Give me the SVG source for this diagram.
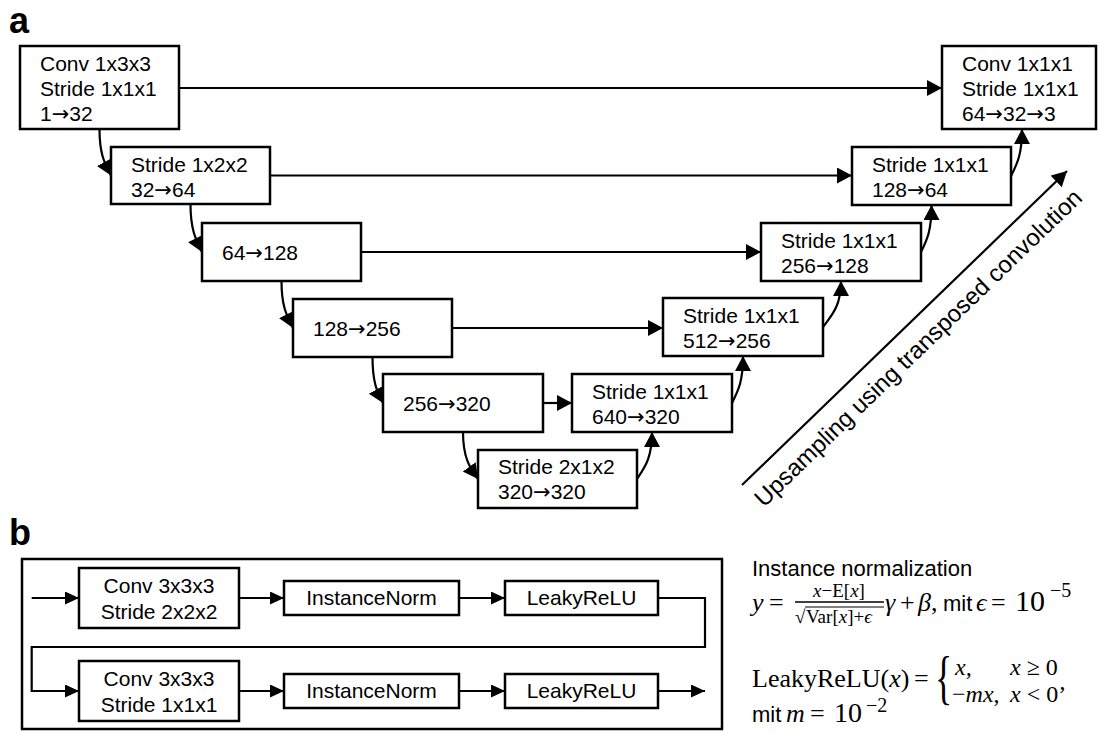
<svg xmlns="http://www.w3.org/2000/svg" width="1099" height="736" viewBox="0 0 1099 736">
<defs>
<style>
.box{fill:#fff;stroke:#000;stroke-width:2.5}
.ln{fill:none;stroke:#000;stroke-width:2.2}
.t{font-family:"Liberation Sans",Arial,sans-serif;font-size:21px;fill:#000}
.tc{font-family:"Liberation Sans",Arial,sans-serif;font-size:21px;fill:#000;text-anchor:middle}
.ar{font-family:"DejaVu Sans",sans-serif}
.lbl{font-family:"Liberation Sans",Arial,sans-serif;font-size:36px;font-weight:bold;fill:#000}
.s{font-family:"Liberation Sans",Arial,sans-serif;font-size:22px;fill:#000}
.m{font-family:"Liberation Serif","DejaVu Serif",serif;font-size:26px;fill:#000}
.mr{font-family:"Liberation Serif","DejaVu Serif",serif;font-size:24px;fill:#000}
.mi{font-style:italic}
.ms{font-family:"Liberation Serif","DejaVu Serif",serif;font-size:19px;fill:#000}
.sup{font-family:"Liberation Serif","DejaVu Serif",serif;font-size:20px;fill:#000}
</style>
<marker id="ah" markerUnits="userSpaceOnUse" markerWidth="16" markerHeight="17" refX="15" refY="8" orient="auto"><path d="M0,0 L15,8 L0,16 z" fill="#000"/></marker>
<marker id="ahb" markerUnits="userSpaceOnUse" markerWidth="15" markerHeight="14" refX="14" refY="6.5" orient="auto"><path d="M0,0 L14,6.5 L0,13 z" fill="#000"/></marker>
</defs>
<rect width="1099" height="736" fill="#fff"/>
<text class="lbl" x="9" y="33">a</text>
<text class="lbl" x="9" y="545">b</text>

<g id="connectors">
<path class="ln" d="M179,88 H942" marker-end="url(#ah)"/>
<path class="ln" d="M270,175.5 H852" marker-end="url(#ah)"/>
<path class="ln" d="M361,252 H761" marker-end="url(#ah)"/>
<path class="ln" d="M452,328 H663" marker-end="url(#ah)"/>
<path class="ln" d="M543,403 H572" marker-end="url(#ah)"/>
<path class="ln" d="M99.5,129 C99.5,155 105,164 111,175.5" marker-end="url(#ah)"/>
<path class="ln" d="M190.5,204 C190.5,230 196,240 202,252" marker-end="url(#ah)"/>
<path class="ln" d="M281.5,281 C281.5,307 287,316 293,328" marker-end="url(#ah)"/>
<path class="ln" d="M372.5,357 C372.5,382 377,392 383,403" marker-end="url(#ah)"/>
<path class="ln" d="M463,432 C463,458 470,468 478,479" marker-end="url(#ah)"/>
<path class="ln" d="M637,479 C645,467 652,458 652,432" marker-end="url(#ah)"/>
<path class="ln" d="M732,403 C738,391 743,382 743,356" marker-end="url(#ah)"/>
<path class="ln" d="M823,327 C832,315 841,306 841,281" marker-end="url(#ah)"/>
<path class="ln" d="M921,252 C927,240 931.5,231 931.5,205" marker-end="url(#ah)"/>
<path class="ln" d="M1011,176 C1017,164 1022,155 1022,129" marker-end="url(#ah)"/>
<path class="ln" d="M742,485 L1067,171" marker-end="url(#ah)"/>
<path class="ln" d="M31.7,598 H79" marker-end="url(#ahb)"/>
<path class="ln" d="M239,598 H284" marker-end="url(#ahb)"/>
<path class="ln" d="M459,598 H505" marker-end="url(#ahb)"/>
<path class="ln" d="M658,598 H705 V647 H31.7 V691 H79" marker-end="url(#ahb)"/>
<path class="ln" d="M239,691 H284" marker-end="url(#ahb)"/>
<path class="ln" d="M459,691 H505" marker-end="url(#ahb)"/>
<path class="ln" d="M658,691 H705" marker-end="url(#ahb)"/>
</g>

<g id="n1"><rect class="box" x="20" y="46" width="159" height="83"/>
<text class="t" x="40" y="71">Conv 1x3x3</text><text class="t" x="40" y="96">Stride 1x1x1</text><text class="t" x="40" y="121">1<tspan class="ar">→</tspan>32</text></g>
<g id="n2"><rect class="box" x="111" y="147" width="159" height="57"/>
<text class="t" x="131" y="172">Stride 1x2x2</text><text class="t" x="131" y="197">32<tspan class="ar">→</tspan>64</text></g>
<g id="n3"><rect class="box" x="202" y="223" width="159" height="58"/>
<text class="t" x="222" y="260">64<tspan class="ar">→</tspan>128</text></g>
<g id="n4"><rect class="box" x="293" y="299" width="159" height="58"/>
<text class="t" x="313" y="336">128<tspan class="ar">→</tspan>256</text></g>
<g id="n5"><rect class="box" x="383" y="374" width="160" height="58"/>
<text class="t" x="403" y="411">256<tspan class="ar">→</tspan>320</text></g>
<g id="n6"><rect class="box" x="478" y="450" width="159" height="58"/>
<text class="t" x="498" y="474">Stride 2x1x2</text><text class="t" x="498" y="499">320<tspan class="ar">→</tspan>320</text></g>
<g id="n7"><rect class="box" x="572" y="374" width="160" height="58"/>
<text class="t" x="592" y="399">Stride 1x1x1</text><text class="t" x="592" y="424">640<tspan class="ar">→</tspan>320</text></g>
<g id="n8"><rect class="box" x="663" y="298" width="160" height="58"/>
<text class="t" x="683" y="323">Stride 1x1x1</text><text class="t" x="683" y="348">512<tspan class="ar">→</tspan>256</text></g>
<g id="n9"><rect class="box" x="761" y="223" width="160" height="58"/>
<text class="t" x="781" y="248">Stride 1x1x1</text><text class="t" x="781" y="273">256<tspan class="ar">→</tspan>128</text></g>
<g id="n10"><rect class="box" x="852" y="147" width="159" height="58"/>
<text class="t" x="872" y="172">Stride 1x1x1</text><text class="t" x="872" y="197">128<tspan class="ar">→</tspan>64</text></g>
<g id="n11"><rect class="box" x="942" y="46" width="154" height="83"/>
<text class="t" x="962" y="71">Conv 1x1x1</text><text class="t" x="962" y="96">Stride 1x1x1</text><text class="t" x="962" y="121">64<tspan class="ar">→</tspan>32<tspan class="ar">→</tspan>3</text></g>

<text class="t" transform="translate(764,508) rotate(-44)" style="font-size:24px">Upsampling using transposed convolution</text>

<g id="b-frame"><rect x="22" y="559" width="700" height="170" fill="none" stroke="#000" stroke-width="2.5"/></g>
<g id="b1"><rect class="box" x="79" y="568" width="160" height="60"/>
<text class="tc" x="159" y="593">Conv 3x3x3</text><text class="tc" x="159" y="619">Stride 2x2x2</text></g>
<g id="b2"><rect class="box" x="284" y="581" width="175" height="34"/><text class="tc" x="371.5" y="605">InstanceNorm</text></g>
<g id="b3"><rect class="box" x="505" y="581" width="153" height="34"/><text class="tc" x="581.5" y="605">LeakyReLU</text></g>
<g id="b4"><rect class="box" x="79" y="661" width="160" height="60"/>
<text class="tc" x="159" y="686">Conv 3x3x3</text><text class="tc" x="159" y="712">Stride 1x1x1</text></g>
<g id="b5"><rect class="box" x="284" y="674" width="175" height="34"/><text class="tc" x="371.5" y="698">InstanceNorm</text></g>
<g id="b6"><rect class="box" x="505" y="674" width="153" height="34"/><text class="tc" x="581.5" y="698">LeakyReLU</text></g>

<g id="formulas">
<text class="s" x="752" y="576">Instance normalization</text>
<text class="m mi" x="752" y="611">y</text>
<text class="m" x="769" y="611">=</text>
<text class="ms" x="839" y="597" text-anchor="middle"><tspan font-style="italic">x</tspan>−E[<tspan font-style="italic">x</tspan>]</text>
<line x1="795" y1="602" x2="884" y2="602" stroke="#000" stroke-width="1.3"/>
<text class="ms" x="795" y="623">√</text>
<line x1="805" y1="607" x2="884" y2="607" stroke="#000" stroke-width="1"/>
<text class="ms" x="806" y="623">Var[<tspan font-style="italic">x</tspan>]+<tspan font-style="italic">ϵ</tspan></text>
<text class="m mi" x="885" y="611">γ</text>
<text class="m" x="900" y="611">+</text>
<text class="m" x="918" y="611"><tspan font-style="italic">β</tspan>,</text>
<text class="s" x="943" y="611">mit</text>
<text class="m mi" x="976" y="611">ϵ</text>
<text class="m" x="991" y="611">=</text>
<text class="m" x="1015" y="611" style="font-size:30px">10</text>
<text class="sup" x="1050" y="597">−5</text>

<text class="m" x="752" y="687">LeakyReLU(<tspan font-style="italic">x</tspan>)</text>
<text class="m" x="914" y="687">=</text>
<text class="m" transform="translate(935,697) scale(0.6,1)" style="font-size:60px">{</text>
<text class="mr mi" x="955" y="675">x,</text>
<text class="mr" x="1010" y="675"><tspan font-style="italic">x</tspan> ≥ 0</text>
<text class="mr" x="952" y="702">−<tspan font-style="italic">mx</tspan>,</text>
<text class="mr" x="1010" y="702"><tspan font-style="italic">x</tspan> &lt; 0’</text>
<text class="s" x="752" y="722">mit</text>
<text class="m mi" x="786" y="722">m</text>
<text class="m" x="810" y="722">=</text>
<text class="m" x="834" y="722" style="font-size:28px">10</text>
<text class="sup" x="866" y="712">−2</text>
</g>
</svg>
